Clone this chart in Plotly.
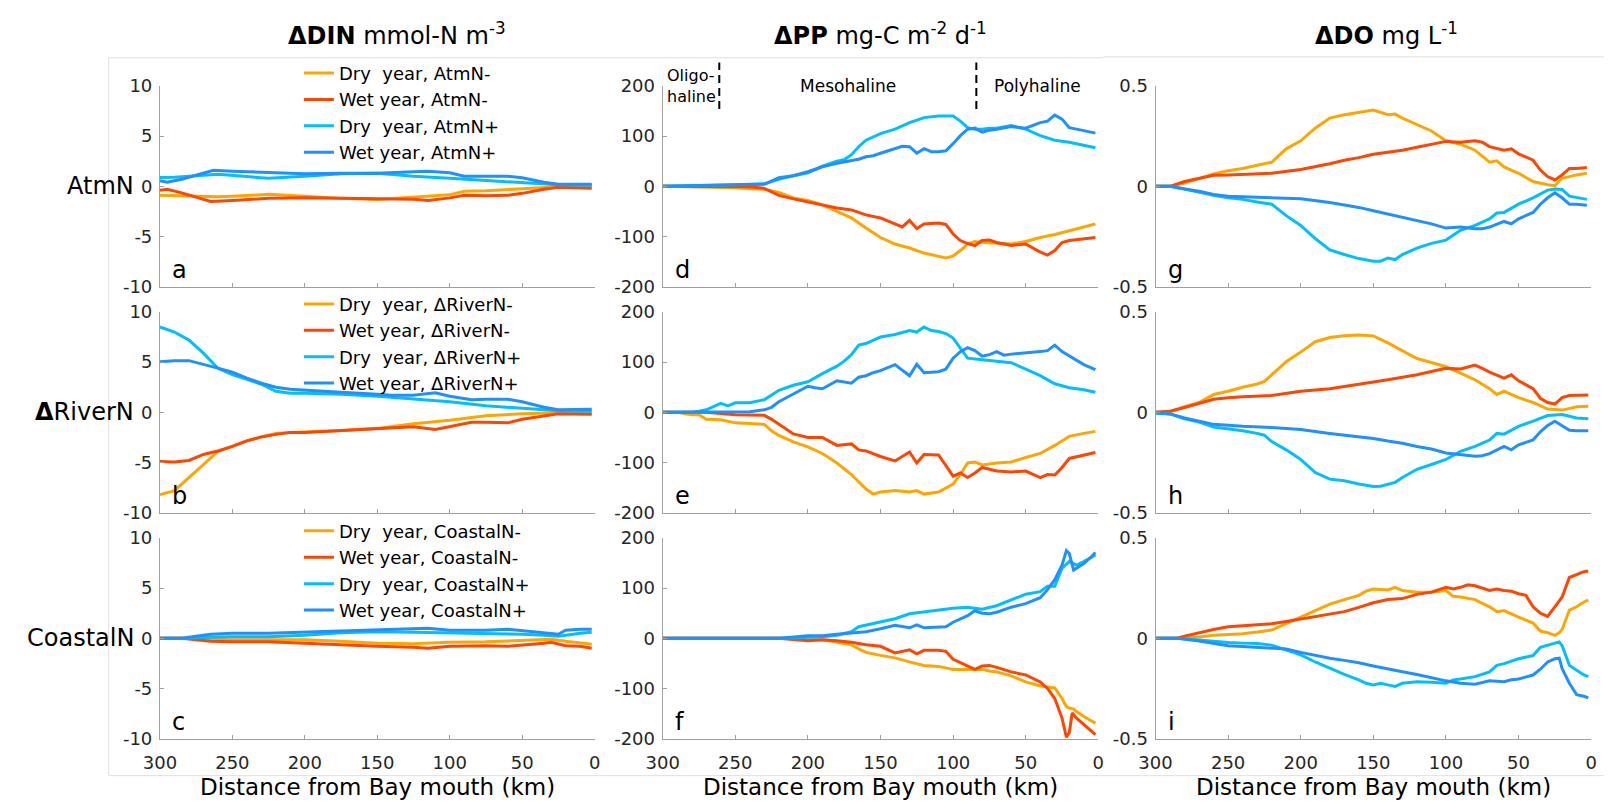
import plotly.graph_objects as go

# ---------------------------------------------------------------------------
# Along-channel differences relative to the base run, as (km, value) pairs.
# Distance is measured from the Bay mouth.
# ---------------------------------------------------------------------------

# ΔDIN (mmol-N m-3), AtmN scenarios
DIN_ATM_DRY_NEG = [(300, -0.9), (280, -1.0), (260, -1.05), (250, -1.0), (225, -0.8), (200, -1.0), (175, -1.2),
                   (150, -1.3), (125, -1.05), (100, -0.85), (90, -0.5), (75, -0.45), (50, -0.25), (25, -0.05), (2, -0.1)]
DIN_ATM_WET_NEG = [(300, -0.4), (295, -0.3), (285, -0.65), (265, -1.5), (250, -1.4), (225, -1.2), (200, -1.15),
                   (175, -1.2), (150, -1.3), (125, -1.3), (115, -1.4), (100, -1.15), (90, -0.9), (75, -0.95),
                   (60, -0.9), (50, -0.7), (35, -0.3), (25, -0.1), (2, -0.2)]
DIN_ATM_DRY_POS = [(300, 0.87), (290, 0.9), (260, 1.2), (250, 1.1), (225, 0.8), (200, 1.0), (175, 1.25), (150, 1.3),
                   (125, 1.0), (100, 0.8), (75, 0.6), (50, 0.4), (25, 0.15), (2, 0.1)]
DIN_ATM_WET_POS = [(300, 0.55), (295, 0.4), (285, 0.7), (263, 1.6), (250, 1.5), (225, 1.35), (200, 1.25), (175, 1.3),
                   (150, 1.3), (125, 1.45), (115, 1.5), (100, 1.35), (90, 1.0), (75, 1.0), (60, 1.0), (50, 0.85),
                   (35, 0.4), (25, 0.2), (2, 0.2)]

# ΔDIN, ΔRiverN scenarios
DIN_RIV_DRY_NEG = [(300, -8.2), (290, -7.8), (280, -6.5), (270, -5.2), (260, -3.9), (250, -3.4), (240, -2.85),
                   (230, -2.45), (220, -2.1), (210, -2.0), (200, -1.95), (175, -1.8), (150, -1.6), (125, -1.15),
                   (100, -0.8), (75, -0.35), (50, -0.15), (25, -0.05), (2, -0.1)]
DIN_RIV_WET_NEG = [(300, -4.9), (290, -4.95), (280, -4.8), (270, -4.2), (260, -3.85), (250, -3.4), (240, -2.85),
                   (230, -2.45), (220, -2.2), (210, -2.0), (200, -2.0), (175, -1.8), (150, -1.6), (125, -1.45),
                   (110, -1.7), (100, -1.45), (85, -1.0), (75, -1.0), (60, -1.05), (50, -0.7), (35, -0.35),
                   (25, -0.15), (2, -0.2)]
DIN_RIV_DRY_POS = [(300, 8.5), (290, 8.0), (280, 7.2), (270, 5.9), (260, 4.4), (250, 3.75), (240, 3.3), (230, 2.8),
                   (220, 2.1), (210, 1.9), (200, 1.9), (175, 1.8), (150, 1.6), (125, 1.3), (100, 1.05), (75, 0.65),
                   (50, 0.4), (25, 0.15), (2, 0.1)]
DIN_RIV_WET_POS = [(300, 5.05), (290, 5.15), (280, 5.15), (270, 4.8), (260, 4.4), (250, 4.0), (240, 3.4), (230, 2.9),
                   (220, 2.5), (210, 2.3), (200, 2.2), (175, 2.0), (150, 1.8), (140, 1.7), (125, 1.7), (110, 1.95),
                   (100, 1.6), (85, 1.25), (75, 1.3), (60, 1.3), (50, 1.05), (35, 0.5), (25, 0.25), (2, 0.3)]

# ΔDIN, CoastalN scenarios
DIN_CST_DRY_NEG = [(300, 0.0), (285, 0.0), (265, -0.1), (250, -0.15), (225, -0.15), (200, -0.15), (175, -0.3),
                   (150, -0.5), (125, -0.55), (100, -0.4), (75, -0.35), (50, -0.25), (30, -0.1), (20, -0.3),
                   (10, -0.5), (2, -0.6)]
DIN_CST_WET_NEG = [(300, 0.0), (285, 0.0), (265, -0.3), (250, -0.35), (225, -0.35), (200, -0.5), (175, -0.7),
                   (150, -0.8), (125, -0.9), (115, -1.0), (100, -0.8), (75, -0.75), (60, -0.8), (50, -0.7),
                   (35, -0.5), (30, -0.4), (20, -0.75), (10, -0.8), (2, -1.0)]
DIN_CST_DRY_POS = [(300, 0.0), (285, 0.0), (265, 0.1), (250, 0.15), (225, 0.15), (200, 0.3), (175, 0.55),
                   (150, 0.65), (125, 0.6), (100, 0.55), (75, 0.5), (50, 0.4), (35, 0.3), (25, 0.2), (10, 0.5),
                   (2, 0.6)]
DIN_CST_WET_POS = [(300, 0.0), (285, 0.0), (265, 0.4), (250, 0.5), (225, 0.5), (200, 0.6), (175, 0.75), (150, 0.8),
                   (125, 0.9), (115, 1.0), (100, 0.8), (75, 0.8), (60, 0.9), (50, 0.75), (35, 0.55), (25, 0.4),
                   (20, 0.8), (10, 0.9), (2, 0.9)]

# ΔPP (mg-C m-2 d-1), AtmN scenarios
PP_ATM_DRY_NEG = [(300, 0), (270, -1), (250, -3), (240, -5), (230, -6), (220, -12), (210, -23), (200, -28),
                  (190, -37), (180, -50), (170, -63), (160, -83), (150, -102), (140, -115), (130, -123), (120, -133),
                  (110, -139), (105, -143), (100, -139), (95, -128), (90, -115), (85, -110), (80, -112), (70, -114),
                  (60, -115), (50, -110), (40, -102), (30, -96), (20, -89), (10, -81), (2, -75)]
PP_ATM_WET_NEG = [(300, 0), (240, -1), (230, -4), (220, -18), (210, -25), (200, -31), (190, -37), (180, -43),
                  (170, -47), (160, -57), (150, -63), (140, -76), (135, -81), (130, -68), (125, -84), (120, -75),
                  (110, -73), (105, -76), (100, -95), (95, -108), (90, -114), (85, -118), (80, -108), (75, -107),
                  (70, -112), (60, -118), (50, -115), (40, -131), (35, -137), (30, -128), (25, -112), (20, -108),
                  (10, -105), (2, -102)]
PP_ATM_DRY_POS = [(300, 0), (270, 1), (250, 3), (230, 5), (220, 14), (210, 21), (200, 27), (190, 40), (180, 50),
                  (175, 53), (170, 63), (165, 79), (160, 92), (150, 105), (140, 114), (130, 127), (120, 137),
                  (110, 140), (100, 140), (95, 130), (90, 117), (85, 114), (80, 114), (75, 116), (70, 116),
                  (60, 121), (50, 114), (40, 101), (30, 92), (20, 88), (10, 82), (2, 77)]
PP_ATM_WET_POS = [(300, 0), (250, 2), (230, 4), (220, 17), (210, 21), (200, 29), (190, 39), (180, 46), (170, 52),
                  (165, 54), (160, 59), (155, 61), (150, 66), (145, 71), (140, 75), (135, 80), (130, 79), (125, 66),
                  (120, 75), (115, 69), (110, 69), (105, 71), (100, 85), (95, 101), (90, 114), (85, 116), (80, 108),
                  (75, 112), (70, 114), (60, 119), (50, 116), (40, 127), (35, 130), (30, 142), (25, 134), (20, 117),
                  (10, 111), (2, 106)]

# ΔPP, ΔRiverN scenarios
PP_RIV_DRY_NEG = [(300, 0), (290, 0), (280, -5), (275, -5), (270, -14), (260, -15), (250, -21), (240, -22),
                  (230, -24), (225, -37), (220, -46), (210, -59), (200, -69), (190, -82), (180, -101), (170, -124),
                  (160, -153), (155, -163), (150, -159), (140, -156), (130, -159), (125, -156), (120, -163),
                  (110, -159), (100, -143), (95, -124), (90, -101), (85, -99), (80, -105), (70, -101), (60, -99),
                  (50, -90), (40, -82), (30, -66), (20, -48), (10, -42), (2, -38)]
PP_RIV_WET_NEG = [(300, 0), (270, 0), (250, -5), (230, -6), (225, -14), (220, -24), (210, -43), (200, -50),
                  (190, -50), (180, -66), (170, -63), (165, -75), (160, -77), (150, -88), (140, -97), (130, -79),
                  (125, -101), (120, -84), (110, -85), (100, -127), (95, -121), (90, -130), (85, -121), (80, -110),
                  (70, -117), (60, -119), (50, -117), (40, -130), (35, -124), (30, -125), (25, -110), (20, -92),
                  (10, -85), (2, -80)]
PP_RIV_DRY_POS = [(300, 0), (280, 0), (275, 2), (270, 5), (260, 18), (255, 13), (250, 19), (240, 19), (230, 25),
                  (225, 34), (220, 44), (210, 54), (200, 61), (190, 77), (185, 84), (180, 92), (175, 102),
                  (170, 115), (165, 134), (160, 137), (150, 150), (140, 155), (130, 163), (125, 160), (120, 170),
                  (115, 163), (110, 161), (105, 157), (100, 148), (95, 128), (90, 108), (80, 105), (70, 102),
                  (60, 99), (50, 86), (40, 73), (30, 57), (20, 49), (10, 45), (2, 40)]
PP_RIV_WET_POS = [(300, 0), (240, 1), (230, 5), (225, 10), (220, 21), (210, 36), (205, 45), (200, 52), (195, 49),
                  (190, 47), (180, 63), (170, 58), (165, 70), (160, 73), (155, 79), (150, 83), (140, 95), (130, 73),
                  (125, 96), (120, 79), (110, 81), (105, 86), (100, 108), (95, 121), (90, 129), (85, 123),
                  (80, 112), (75, 115), (70, 121), (65, 114), (60, 116), (50, 118), (40, 121), (35, 123), (30, 134),
                  (25, 121), (20, 112), (10, 95), (2, 85)]

# ΔPP, CoastalN scenarios
PP_CST_DRY_NEG = [(300, 0), (220, 0), (200, -3), (190, -3), (180, -8), (170, -13), (165, -21), (160, -28),
                  (150, -34), (140, -39), (130, -47), (120, -54), (110, -56), (100, -62), (90, -62), (80, -62),
                  (75, -65), (70, -67), (60, -75), (50, -87), (40, -95), (30, -99), (25, -120), (22, -136),
                  (20, -139), (17, -141), (15, -146), (10, -156), (2, -169)]
PP_CST_WET_NEG = [(300, 0), (220, 0), (200, -5), (190, -3), (180, -5), (170, -8), (160, -13), (150, -16),
                  (140, -29), (130, -23), (125, -31), (120, -24), (110, -24), (105, -26), (100, -42), (90, -55),
                  (85, -62), (80, -55), (75, -54), (70, -58), (60, -67), (50, -73), (40, -87), (35, -100),
                  (30, -120), (25, -159), (22, -197), (20, -188), (18, -149), (15, -159), (10, -172), (2, -192)]
PP_CST_DRY_POS = [(300, 0), (220, 0), (200, 2), (190, 3), (180, 6), (170, 13), (165, 23), (160, 26), (150, 32),
                  (140, 39), (130, 49), (120, 53), (110, 56), (100, 60), (90, 62), (80, 58), (70, 65), (60, 76),
                  (50, 88), (40, 93), (35, 104), (30, 104), (25, 140), (20, 153), (15, 146), (10, 153), (2, 166)]
PP_CST_WET_POS = [(300, 0), (220, 0), (200, 5), (190, 5), (180, 8), (170, 11), (160, 13), (150, 19), (140, 26),
                  (130, 21), (125, 27), (120, 21), (110, 23), (105, 23), (100, 32), (90, 45), (85, 55), (80, 50),
                  (75, 49), (70, 52), (60, 62), (50, 69), (40, 81), (35, 97), (30, 117), (25, 146), (22, 175),
                  (20, 169), (17, 136), (10, 149), (5, 162), (2, 171)]

# ΔDO (mg L-1), AtmN scenarios
DO_ATM_DRY_NEG = [(300, 0), (290, 0), (280, 0.016), (270, 0.04), (260, 0.062), (250, 0.078), (240, 0.089),
                  (230, 0.105), (220, 0.12), (210, 0.187), (200, 0.227), (190, 0.29), (180, 0.34), (170, 0.357),
                  (160, 0.37), (150, 0.38), (140, 0.357), (135, 0.36), (130, 0.34), (120, 0.31), (110, 0.276),
                  (100, 0.227), (90, 0.21), (80, 0.18), (70, 0.12), (65, 0.127), (60, 0.097), (50, 0.065),
                  (40, 0.024), (30, 0.008), (25, 0.003), (20, 0.04), (10, 0.057), (3, 0.065)]
DO_ATM_WET_NEG = [(300, 0), (290, 0), (280, 0.024), (270, 0.04), (260, 0.055), (250, 0.057), (240, 0.06),
                  (220, 0.065), (200, 0.084), (190, 0.097), (180, 0.113), (170, 0.13), (160, 0.143), (150, 0.16),
                  (140, 0.17), (130, 0.18), (120, 0.195), (110, 0.208), (100, 0.224), (90, 0.22), (80, 0.227),
                  (75, 0.22), (70, 0.198), (60, 0.18), (55, 0.187), (50, 0.162), (40, 0.13), (35, 0.081),
                  (30, 0.049), (25, 0.032), (20, 0.057), (15, 0.089), (10, 0.089), (3, 0.094)]
DO_ATM_DRY_POS = [(300, 0), (290, 0), (280, -0.013), (270, -0.03), (260, -0.045), (250, -0.057), (240, -0.065),
                  (230, -0.078), (220, -0.089), (210, -0.146), (200, -0.195), (190, -0.26), (180, -0.317),
                  (170, -0.34), (160, -0.36), (150, -0.373), (145, -0.373), (140, -0.357), (135, -0.365),
                  (130, -0.34), (120, -0.308), (110, -0.284), (100, -0.268), (90, -0.219), (80, -0.195),
                  (70, -0.162), (65, -0.133), (60, -0.13), (50, -0.089), (40, -0.057), (30, -0.019), (25, -0.013),
                  (20, -0.016), (15, -0.049), (10, -0.057), (3, -0.065)]
DO_ATM_WET_POS = [(300, 0), (290, 0), (280, -0.013), (270, -0.024), (260, -0.04), (250, -0.049), (240, -0.052),
                  (220, -0.057), (200, -0.062), (180, -0.081), (160, -0.105), (150, -0.122), (140, -0.138),
                  (130, -0.154), (120, -0.17), (110, -0.187), (100, -0.208), (90, -0.203), (80, -0.211),
                  (75, -0.211), (70, -0.203), (60, -0.175), (55, -0.187), (50, -0.162), (40, -0.13), (35, -0.089),
                  (30, -0.057), (25, -0.032), (20, -0.057), (15, -0.089), (10, -0.089), (3, -0.094)]

# ΔDO, ΔRiverN scenarios
DO_RIV_DRY_NEG = [(300, 0), (290, 0.003), (280, 0.028), (270, 0.049), (260, 0.089), (250, 0.105), (240, 0.125),
                  (230, 0.141), (225, 0.154), (220, 0.187), (210, 0.252), (200, 0.3), (190, 0.352), (180, 0.373),
                  (170, 0.381), (160, 0.385), (150, 0.381), (140, 0.346), (130, 0.308), (120, 0.268), (110, 0.248),
                  (100, 0.227), (90, 0.195), (80, 0.162), (70, 0.118), (65, 0.089), (60, 0.105), (50, 0.073),
                  (40, 0.049), (30, 0.016), (20, 0.011), (10, 0.028), (2, 0.03)]
DO_RIV_WET_NEG = [(300, 0), (290, 0.005), (280, 0.024), (270, 0.044), (260, 0.065), (250, 0.073), (240, 0.078),
                  (220, 0.084), (200, 0.105), (180, 0.118), (160, 0.138), (150, 0.151), (140, 0.162), (130, 0.174),
                  (120, 0.187), (110, 0.203), (100, 0.219), (90, 0.216), (80, 0.235), (75, 0.219), (70, 0.2),
                  (60, 0.17), (55, 0.187), (50, 0.157), (40, 0.118), (35, 0.07), (30, 0.049), (25, 0.041),
                  (20, 0.073), (15, 0.084), (10, 0.086), (2, 0.086)]
DO_RIV_DRY_POS = [(300, -0.005), (290, -0.008), (280, -0.032), (270, -0.049), (260, -0.073), (250, -0.081),
                  (240, -0.092), (230, -0.105), (225, -0.114), (220, -0.146), (210, -0.187), (200, -0.235),
                  (190, -0.3), (180, -0.333), (170, -0.341), (160, -0.357), (150, -0.37), (145, -0.368),
                  (140, -0.357), (135, -0.349), (130, -0.325), (120, -0.284), (110, -0.26), (100, -0.235),
                  (90, -0.195), (80, -0.17), (70, -0.138), (65, -0.105), (60, -0.109), (50, -0.07), (40, -0.044),
                  (30, -0.016), (20, -0.011), (10, -0.028), (2, -0.032)]
DO_RIV_WET_POS = [(300, 0), (290, -0.008), (280, -0.028), (270, -0.044), (260, -0.06), (250, -0.065),
                  (240, -0.07), (220, -0.076), (200, -0.086), (180, -0.105), (160, -0.122), (150, -0.13),
                  (140, -0.143), (130, -0.154), (120, -0.17), (110, -0.183), (100, -0.203), (90, -0.211),
                  (80, -0.219), (75, -0.216), (70, -0.206), (60, -0.17), (55, -0.187), (50, -0.162), (40, -0.138),
                  (35, -0.097), (30, -0.065), (25, -0.044), (20, -0.065), (15, -0.089), (10, -0.092), (2, -0.092)]

# ΔDO, CoastalN scenarios
DO_CST_DRY_NEG = [(300, 0), (285, 0), (270, 0.006), (260, 0.015), (250, 0.019), (240, 0.023), (230, 0.031),
                  (220, 0.041), (210, 0.073), (200, 0.105), (190, 0.138), (180, 0.17), (170, 0.193), (160, 0.214),
                  (155, 0.235), (150, 0.246), (140, 0.241), (135, 0.254), (130, 0.238), (120, 0.23), (110, 0.23),
                  (100, 0.238), (95, 0.209), (90, 0.206), (80, 0.193), (70, 0.157), (65, 0.133), (60, 0.138),
                  (50, 0.105), (40, 0.076), (35, 0.036), (30, 0.028), (25, 0.015), (22, 0.028), (20, 0.044),
                  (15, 0.141), (10, 0.157), (5, 0.181), (2, 0.19)]
DO_CST_WET_NEG = [(300, 0), (285, 0), (280, 0.011), (270, 0.028), (260, 0.044), (250, 0.057), (240, 0.063),
                  (230, 0.068), (220, 0.073), (210, 0.084), (200, 0.096), (190, 0.109), (180, 0.122), (170, 0.133),
                  (160, 0.154), (150, 0.177), (140, 0.193), (130, 0.198), (120, 0.219), (110, 0.23), (100, 0.254),
                  (95, 0.246), (90, 0.254), (85, 0.267), (80, 0.262), (70, 0.238), (65, 0.246), (60, 0.238),
                  (55, 0.235), (50, 0.222), (45, 0.214), (40, 0.157), (35, 0.125), (30, 0.109), (25, 0.157),
                  (20, 0.206), (15, 0.303), (10, 0.319), (5, 0.332), (2, 0.335)]
DO_CST_DRY_POS = [(300, 0), (285, 0), (270, -0.008), (260, -0.016), (250, -0.021), (240, -0.024), (230, -0.026),
                  (220, -0.034), (210, -0.057), (200, -0.083), (190, -0.118), (180, -0.151), (170, -0.18),
                  (160, -0.207), (155, -0.224), (150, -0.232), (145, -0.224), (140, -0.232), (135, -0.24),
                  (130, -0.224), (120, -0.216), (110, -0.219), (100, -0.224), (95, -0.207), (90, -0.203),
                  (80, -0.191), (70, -0.167), (65, -0.135), (60, -0.126), (50, -0.102), (40, -0.086), (35, -0.045),
                  (30, -0.034), (25, -0.024), (22, -0.018), (20, -0.037), (15, -0.135), (10, -0.159), (5, -0.183),
                  (2, -0.191)]
DO_CST_WET_POS = [(300, 0), (285, 0), (270, -0.013), (260, -0.024), (250, -0.037), (240, -0.041), (230, -0.045),
                  (220, -0.05), (210, -0.053), (200, -0.07), (190, -0.086), (180, -0.099), (170, -0.11),
                  (160, -0.122), (150, -0.138), (140, -0.154), (130, -0.167), (120, -0.18), (110, -0.196),
                  (100, -0.212), (90, -0.224), (80, -0.229), (70, -0.212), (60, -0.216), (55, -0.207), (50, -0.203),
                  (40, -0.183), (35, -0.154), (30, -0.118), (25, -0.102), (22, -0.099), (20, -0.151), (15, -0.224),
                  (10, -0.281), (5, -0.289), (2, -0.297)]

# Axis ticks and labels
X_TICKS = [300, 250, 200, 150, 100, 50, 0]
DIN_TICKS = [-10, -5, 0, 5, 10]
DIN_TICK_TEXT = ["-10", "-5", "0", "5", "10"]
PP_TICKS = [-200, -100, 0, 100, 200]
PP_TICK_TEXT = ["-200", "-100", "0", "100", "200"]
DO_TICKS = [-0.5, 0, 0.5]
DO_TICK_TEXT = ["-0.5", "0", "0.5"]

ROW_SCENARIOS = ["AtmN", "ΔRiverN", "CoastalN"]
ROW_LABELS = ["AtmN", "<b>Δ</b>RiverN", "CoastalN"]
COL_TITLES = ["<b>ΔDIN</b> mmol-N m<sup>-3</sup>",
              "<b>ΔPP</b> mg-C m<sup>-2</sup> d<sup>-1</sup>",
              "<b>ΔDO</b> mg L<sup>-1</sup>"]
PANEL_LETTERS = [["a", "d", "g"], ["b", "e", "h"], ["c", "f", "i"]]
SERIES_KINDS = [("Dry\u00a0 year", "-"), ("Wet year", "-"), ("Dry\u00a0 year", "+"), ("Wet year", "+")]

PANEL_DATA = [
    [[DIN_ATM_DRY_NEG, DIN_ATM_WET_NEG, DIN_ATM_DRY_POS, DIN_ATM_WET_POS],
     [PP_ATM_DRY_NEG, PP_ATM_WET_NEG, PP_ATM_DRY_POS, PP_ATM_WET_POS],
     [DO_ATM_DRY_NEG, DO_ATM_WET_NEG, DO_ATM_DRY_POS, DO_ATM_WET_POS]],
    [[DIN_RIV_DRY_NEG, DIN_RIV_WET_NEG, DIN_RIV_DRY_POS, DIN_RIV_WET_POS],
     [PP_RIV_DRY_NEG, PP_RIV_WET_NEG, PP_RIV_DRY_POS, PP_RIV_WET_POS],
     [DO_RIV_DRY_NEG, DO_RIV_WET_NEG, DO_RIV_DRY_POS, DO_RIV_WET_POS]],
    [[DIN_CST_DRY_NEG, DIN_CST_WET_NEG, DIN_CST_DRY_POS, DIN_CST_WET_POS],
     [PP_CST_DRY_NEG, PP_CST_WET_NEG, PP_CST_DRY_POS, PP_CST_WET_POS],
     [DO_CST_DRY_NEG, DO_CST_WET_NEG, DO_CST_DRY_POS, DO_CST_WET_POS]],
]

# Salinity zone boundaries (km) drawn in the ΔPP/AtmN panel
OLIGO_MESO_KM = 261
MESO_POLY_KM = 84

# ---------------------------------------------------------------------------
# Styling and layout geometry (pixels in a 1610 x 810 canvas)
# ---------------------------------------------------------------------------
W, H = 1610, 810
COLORS = ["#FFA500", "#FF4500", "#00BFFF", "#1E90FF"]
FONT = "DejaVu Sans, Verdana, sans-serif"
AXIS_GRAY = "#a0a0a0"
TICK_COLOR = "#262626"
FRAME_GRAY = "#e0e0e0"

COL_PX = [(145, 586), (655, 1097), (1155, 1597)]
ROW_PX = [(77, 283), (309, 515), (541, 747)]
TITLE_X_PX = [386, 876, 1389]
TITLE_Y_PX = 24
ROW_LABEL_RIGHT_PX = 121
XLABEL_Y_PX = 797
LEGEND_LEFT_PX = 286
LEGEND_TOP_PX = [45, 282, 515]

Y_SPECS = [(DIN_TICKS, DIN_TICK_TEXT), (PP_TICKS, PP_TICK_TEXT), (DO_TICKS, DO_TICK_TEXT)]


def fx(px):
    return px / W


def fy(px):
    return 1 - px / H


fig = go.Figure()
layout_axes = {}
annotations = []
shapes = []

for r in range(3):
    for c in range(3):
        k = r * 3 + c + 1
        xa = "x" if k == 1 else f"x{k}"
        ya = "y" if k == 1 else f"y{k}"
        xkey = "xaxis" if k == 1 else f"xaxis{k}"
        ykey = "yaxis" if k == 1 else f"yaxis{k}"
        legend_id = "legend" if r == 0 else f"legend{r + 1}"

        for s, series in enumerate(PANEL_DATA[r][c]):
            km = [p[0] for p in series]
            val = [p[1] for p in series]
            year, sign = SERIES_KINDS[s]
            fig.add_trace(go.Scatter(
                x=km, y=val, mode="lines", xaxis=xa, yaxis=ya,
                line=dict(color=COLORS[s], width=3),
                name=f"{year}, {ROW_SCENARIOS[r]}{sign}",
                showlegend=(c == 0), legend=legend_id,
            ))

        tickvals, ticktext = Y_SPECS[c]
        layout_axes[xkey] = dict(
            domain=[fx(COL_PX[c][0]), fx(COL_PX[c][1])], anchor=ya,
            range=[300, 0], tickvals=X_TICKS, ticktext=[str(t) for t in X_TICKS],
            showticklabels=(r == 2), ticks="inside", ticklen=4, tickcolor=AXIS_GRAY,
            showline=True, linecolor=AXIS_GRAY, linewidth=1, showgrid=False, zeroline=False,
            tickfont=dict(family=FONT, size=18, color=TICK_COLOR), ticklabelstandoff=8,
        )
        layout_axes[ykey] = dict(
            domain=[fy(ROW_PX[r][1]), fy(ROW_PX[r][0])], anchor=xa,
            range=[tickvals[0], tickvals[-1]], tickvals=tickvals, ticktext=ticktext,
            ticks="inside", ticklen=4, tickcolor=AXIS_GRAY,
            showline=True, linecolor=AXIS_GRAY, linewidth=1, showgrid=False, zeroline=False,
            tickfont=dict(family=FONT, size=18, color=TICK_COLOR), ticklabelstandoff=3,
        )

        annotations.append(dict(
            text=PANEL_LETTERS[r][c], xref=f"{xa} domain", yref=f"{ya} domain",
            x=0.024, y=0.083, xanchor="left", yanchor="middle", showarrow=False,
            font=dict(family=FONT, size=24, color="black"),
        ))

# Column titles and x-axis captions
for c in range(3):
    annotations.append(dict(
        text=COL_TITLES[c], xref="paper", yref="paper", x=fx(TITLE_X_PX[c]), y=fy(TITLE_Y_PX),
        xanchor="center", yanchor="middle", showarrow=False,
        font=dict(family=FONT, size=24, color="black"),
    ))
    annotations.append(dict(
        text="Distance from Bay mouth (km)", xref="paper", yref="paper",
        x=fx((COL_PX[c][0] + COL_PX[c][1]) / 2), y=fy(XLABEL_Y_PX),
        xanchor="center", yanchor="middle", showarrow=False,
        font=dict(family=FONT, size=23, color="black"),
    ))

# Row labels
for r in range(3):
    annotations.append(dict(
        text=ROW_LABELS[r], xref="paper", yref="paper", x=fx(ROW_LABEL_RIGHT_PX),
        y=fy((ROW_PX[r][0] + ROW_PX[r][1]) / 2), xanchor="right", yanchor="middle", showarrow=False,
        font=dict(family=FONT, size=24, color="black"),
    ))

# Salinity zones above panel d
zone_font = dict(family=FONT, size=17, color="black")
for km in (OLIGO_MESO_KM, MESO_POLY_KM):
    shapes.append(dict(type="line", xref="x2", yref="y2 domain", x0=km, x1=km, y0=0.885, y1=1.117,
                       line=dict(color="black", width=2, dash="8px,5px")))
annotations += [
    dict(text="Oligo-<br>haline", xref="x2", yref="y2 domain", x=298.5, y=1.0, xanchor="left",
         yanchor="middle", align="left", showarrow=False,
         font=dict(family=FONT, size=16, color="black")),
    dict(text="Mesohaline", xref="x2", yref="y2 domain", x=(OLIGO_MESO_KM + MESO_POLY_KM) / 2, y=1.0,
         xanchor="center", yanchor="middle", showarrow=False, font=zone_font),
    dict(text="Polyhaline", xref="x2", yref="y2 domain", x=MESO_POLY_KM / 2, y=1.0,
         xanchor="center", yanchor="middle", showarrow=False, font=zone_font),
]

# Light figure frames
frame = dict(color=FRAME_GRAY, width=1)
shapes += [
    dict(type="line", xref="paper", yref="paper", x0=fx(93), x1=fx(1102), y0=fy(48), y1=fy(48), line=frame),
    dict(type="line", xref="paper", yref="paper", x0=fx(1102), x1=1, y0=fy(47), y1=fy(47), line=frame),
    dict(type="line", xref="paper", yref="paper", x0=fx(93), x1=fx(93), y0=fy(48), y1=fy(785), line=frame),
    dict(type="line", xref="paper", yref="paper", x0=fx(93), x1=1, y0=fy(785), y1=fy(785), line=frame),
]

legend_common = dict(
    xref="paper", yref="paper", xanchor="left", yanchor="top", bgcolor="rgba(0,0,0,0)",
    font=dict(family=FONT, size=18, color="black"), itemwidth=30, tracegroupgap=0,
    borderwidth=0, itemclick=False, itemdoubleclick=False,
)
fig.update_layout(
    width=W, height=H, margin=dict(l=0, r=0, t=0, b=0),
    paper_bgcolor="white", plot_bgcolor="white",
    font=dict(family=FONT, color="black"),
    annotations=annotations, shapes=shapes,
    legend=dict(x=fx(LEGEND_LEFT_PX), y=fy(LEGEND_TOP_PX[0]), **legend_common),
    legend2=dict(x=fx(LEGEND_LEFT_PX), y=fy(LEGEND_TOP_PX[1]), **legend_common),
    legend3=dict(x=fx(LEGEND_LEFT_PX), y=fy(LEGEND_TOP_PX[2]), **legend_common),
    **layout_axes,
)

fig.write_html("out.html")
